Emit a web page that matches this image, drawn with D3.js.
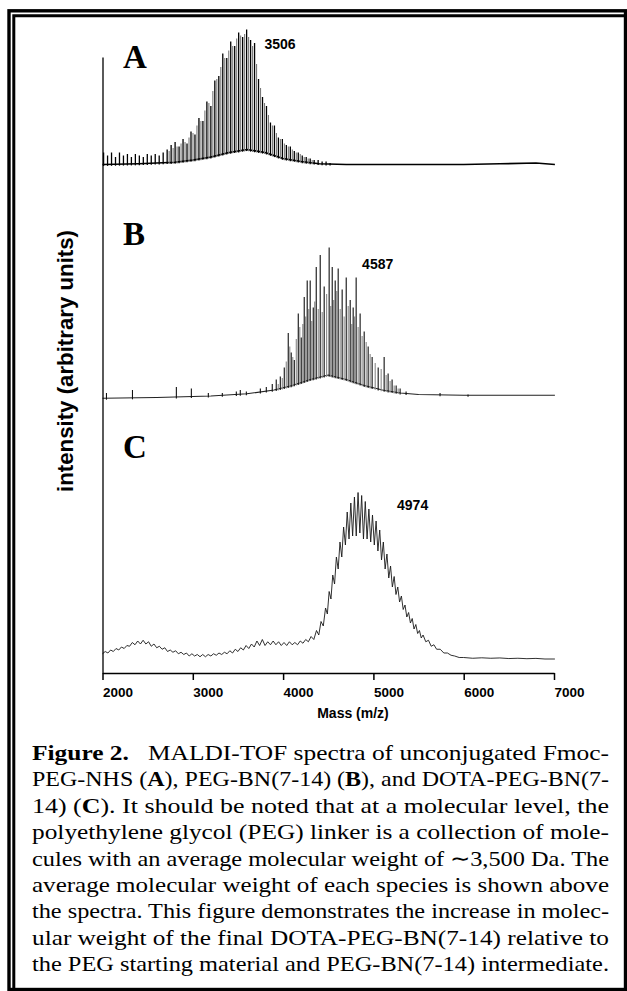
<!DOCTYPE html>
<html>
<head>
<meta charset="utf-8">
<script src="https://cdn.jsdelivr.net/npm/d3@7"></script>
<style>
  body { margin: 0; background: #fff; }
  svg { display: block; }
</style>
</head>
<body>
<div id="chart"></div>
<script>
// ---- data (mass in Da, intensity in arbitrary units) ----
const massTicks = [2000, 3000, 4000, 5000, 6000, 7000];
const panelNames = ['A', 'B', 'C'];
const peakLabels = [3506, 4587, 4974];

// A: Fmoc-PEG-NHS, spike tops (black series and the grey series between them)
const peaksA = [
  [2012, 9], [2056, 7], [2100, 9], [2144, 6], [2188, 9], [2232, 7], [2276, 8], [2320, 6],
  [2364, 8], [2408, 7], [2452, 6], [2496, 8], [2540, 7], [2584, 8], [2628, 7], [2672, 9],
  [2716, 11], [2760, 14], [2804, 16], [2848, 13], [2892, 18], [2936, 15], [2980, 23], [3024, 21],
  [3068, 32], [3112, 30], [3156, 43], [3200, 40], [3244, 57], [3288, 60], [3332, 75], [3376, 72],
  [3420, 83], [3464, 80], [3508, 89], [3552, 86], [3596, 91], [3640, 84], [3684, 82], [3728, 58],
  [3772, 46], [3816, 40], [3860, 29], [3904, 27], [3948, 19], [3992, 18], [4036, 14], [4080, 13],
  [4124, 10], [4168, 9], [4212, 7], [4256, 6], [4300, 5], [4344, 4], [4388, 4], [4432, 3], [4476, 3], [4520, 2]
];
const peaksA2 = [
  [2738, 10], [2782, 12], [2826, 13], [2870, 15], [2914, 16], [2958, 19], [3002, 22], [3046, 27],
  [3090, 30], [3134, 37], [3178, 42], [3222, 50], [3266, 58], [3310, 66], [3354, 72], [3398, 77],
  [3442, 80], [3486, 85], [3530, 87], [3574, 88], [3618, 86], [3662, 80], [3706, 68], [3750, 52],
  [3794, 42], [3838, 34], [3882, 27], [3926, 22], [3970, 18], [4014, 15], [4058, 13], [4102, 11],
  [4146, 9], [4190, 8], [4234, 6], [4278, 5], [4322, 4]
];
const floorA = [
  [2000, 1], [2400, 1.5], [2800, 2.5], [3000, 4], [3200, 6], [3400, 9], [3600, 11], [3800, 9],
  [4000, 5], [4200, 3], [4400, 1.5], [4700, 1], [5500, 1], [6000, 1], [6400, 1.5], [6800, 2], [7010, 1]
];

// B: PEG-BN(7-14)
const peaksB = [
  [2044, 4], [2332, 6], [2818, 8], [2984, 7], [3172, 4], [3327, 4], [3482, 5], [3526, 6], [3593, 5],
  [3748, 7], [3814, 8], [3880, 10], [3924, 13], [3969, 15], [4013, 21], [4057, 44], [4090, 31],
  [4124, 26], [4168, 57], [4201, 41], [4234, 68], [4267, 79], [4300, 79], [4334, 61], [4367, 88],
  [4411, 96], [4455, 75], [4510, 101], [4544, 88], [4577, 79], [4610, 87], [4654, 73], [4699, 81],
  [4743, 66], [4776, 61], [4809, 81], [4853, 57], [4898, 45], [4942, 35], [4986, 28], [5053, 21],
  [5119, 28], [5163, 17], [5207, 13], [5252, 9], [5296, 7], [5362, 5], [5738, 4], [6048, 3]
];
const peaksB2 = [
  [3946, 10], [3991, 14], [4035, 25], [4074, 35], [4107, 28], [4146, 40], [4185, 48], [4218, 50],
  [4250, 55], [4284, 60], [4317, 52], [4350, 65], [4389, 60], [4433, 58], [4482, 70], [4527, 62],
  [4560, 66], [4594, 72], [4632, 60], [4676, 55], [4721, 62], [4760, 50], [4792, 55], [4831, 48],
  [4875, 42], [4920, 38], [4964, 30], [5020, 24], [5086, 20], [5141, 16], [5185, 12], [5230, 9], [5274, 7]
];
const floorB = [
  [2000, 0.5], [2600, 1], [3200, 2], [3600, 3.5], [3900, 6], [4100, 9], [4300, 13], [4500, 16],
  [4700, 13], [4900, 9], [5100, 6], [5300, 4], [5500, 3], [6000, 2.5], [7010, 2.5]
];

// C: DOTA-PEG-BN(7-14), noisy trace
const traceC = [
  [2000, 5.5], [2030, 7], [2060, 6], [2090, 8], [2120, 7], [2150, 9], [2180, 8], [2210, 10],
  [2240, 9], [2270, 11], [2300, 10.5], [2330, 13], [2360, 11.5], [2390, 14], [2420, 12], [2450, 14.5],
  [2480, 12], [2510, 13.5], [2540, 10.5], [2570, 12], [2600, 9.5], [2630, 10.5], [2660, 8.5], [2690, 9.5],
  [2720, 7], [2750, 8], [2780, 6.5], [2810, 7.5], [2840, 5.5], [2870, 6.5], [2900, 5], [2930, 6],
  [2960, 4], [2990, 5.5], [3020, 4], [3050, 5], [3080, 3.5], [3110, 5], [3140, 3.5], [3170, 5],
  [3200, 4], [3230, 5.5], [3260, 4.5], [3290, 6], [3320, 5], [3350, 6.5], [3380, 5.5], [3410, 7.5],
  [3440, 6], [3470, 8.5], [3500, 7], [3530, 9.5], [3560, 8], [3590, 11], [3620, 9], [3650, 12],
  [3680, 10], [3710, 14], [3740, 11], [3770, 15], [3800, 11], [3830, 13.5], [3860, 11.5], [3890, 14],
  [3920, 11.5], [3950, 13.5], [3980, 11], [4010, 13], [4040, 11], [4070, 13.5], [4100, 11.5], [4130, 13],
  [4160, 11.5], [4190, 14], [4220, 12.5], [4250, 15], [4280, 13.5], [4310, 17], [4340, 15], [4370, 21],
  [4395, 18], [4420, 27], [4445, 24], [4470, 36], [4490, 32], [4510, 47], [4530, 42], [4550, 58],
  [4570, 52], [4590, 70], [4610, 62], [4630, 80], [4650, 70], [4670, 90], [4690, 78], [4710, 100],
  [4730, 82], [4750, 106], [4770, 84], [4790, 110], [4810, 84], [4830, 113], [4850, 86], [4870, 111],
  [4890, 82], [4910, 107], [4930, 82], [4950, 102], [4970, 80], [4990, 98], [5010, 78], [5030, 94],
  [5050, 74], [5070, 88], [5090, 68], [5110, 80], [5130, 62], [5150, 72], [5170, 56], [5190, 64],
  [5210, 50], [5230, 57], [5250, 45], [5270, 50], [5290, 40], [5310, 44], [5330, 35], [5350, 38],
  [5370, 30], [5390, 33], [5410, 26], [5430, 29], [5450, 22], [5470, 25], [5490, 19], [5510, 21],
  [5530, 16], [5550, 18], [5580, 13.5], [5610, 14.5], [5640, 10.5], [5670, 11.5], [5700, 8.5], [5740, 8.5],
  [5780, 6], [5820, 6], [5860, 4.5], [5900, 4], [5950, 3], [6000, 3], [6100, 2.5], [6200, 2.8],
  [6300, 2.5], [6400, 2.7], [6500, 2.3], [6600, 2.5], [6700, 2.2], [6800, 2.4], [6900, 2], [7010, 2]
];

const captionLines = [
  [['Figure 2.', true], ['   MALDI-TOF spectra of unconjugated Fmoc-', false]],
  [['PEG-NHS (', false], ['A', true], ['), PEG-BN(7-14) (', false], ['B', true], ['), and DOTA-PEG-BN(7-', false]],
  [['14) (', false], ['C', true], ['). It should be noted that at a molecular level, the', false]],
  [['polyethylene glycol (PEG) linker is a collection of mole-', false]],
  [['cules with an average molecular weight of \u223C3,500 Da. The', false]],
  [['average molecular weight of each species is shown above', false]],
  [['the spectra. This figure demonstrates the increase in molec-', false]],
  [['ular weight of the final DOTA-PEG-BN(7-14) relative to', false]],
  [['the PEG starting material and PEG-BN(7-14) intermediate.', false]]
];

// ---- layout ----
const W = 627, H = 991;
const panelBase = [166, 399, 662];
const unitPx = 1.5;
const letterY = [68, 245, 458];
const labelY = [49, 269, 510];

const svg = d3.select('#chart').append('svg')
  .attr('width', W).attr('height', H);

svg.append('rect').attr('width', W).attr('height', H).attr('fill', '#fff');

// double frame
svg.append('rect')
  .attr('x', 9).attr('y', 10.8).attr('width', 616.5).attr('height', 978.7)
  .attr('fill', 'none').attr('stroke', '#000').attr('stroke-width', 3.4);
svg.append('path')
  .attr('d', 'M13.8,989 V15.8 H624')
  .attr('fill', 'none').attr('stroke', '#000').attr('stroke-width', 3);

const x = d3.scaleLinear().domain([2000, 7000]).range([102.5, 554]);
const axisY = 673;

function panelScale(i) {
  return d3.scaleLinear().domain([0, 100]).range([panelBase[i], panelBase[i] - 100 * unitPx]);
}
function floorScale(floor) {
  return d3.scaleLinear().domain(floor.map(d => d[0])).range(floor.map(d => d[1])).clamp(true);
}
function spikes(g, data, y, f, colour, width) {
  g.append('g').selectAll('line').data(data).join('line')
    .attr('x1', d => x(d[0])).attr('x2', d => x(d[0]))
    .attr('y1', d => y(f(d[0])) + 1.5).attr('y2', d => y(d[1]))
    .attr('stroke', colour).attr('stroke-width', width);
}

// A
{
  const y = panelScale(0);
  const f = floorScale(floorA);
  const g = svg.append('g');
  g.append('path').datum(floorA)
    .attr('d', d3.line().x(d => x(d[0])).y(d => y(d[1])))
    .attr('fill', 'none').attr('stroke', '#000').attr('stroke-width', 1.7);
  spikes(g, peaksA2, y, f, '#7a7a7a', 1.1);
  spikes(g, peaksA, y, f, '#000', 1.3);
}

// B
{
  const y = panelScale(1);
  const f = floorScale(floorB);
  const g = svg.append('g');
  g.append('path').datum(floorB)
    .attr('d', d3.line().x(d => x(d[0])).y(d => y(d[1])))
    .attr('fill', 'none').attr('stroke', '#222').attr('stroke-width', 1.2);
  spikes(g, peaksB2, y, f, '#8a8a8a', 1.1);
  spikes(g, peaksB, y, f, '#111', 1.1);
}

// C
{
  const y = panelScale(2);
  svg.append('path').datum(traceC)
    .attr('d', d3.line().x(d => x(d[0])).y(d => y(d[1])))
    .attr('fill', 'none').attr('stroke', '#1a1a1a').attr('stroke-width', 0.9);
}

// axes
const yAxisScale = d3.scaleLinear().domain([0, 1]).range([axisY, 57]);
svg.append('g')
  .attr('transform', `translate(${x(2000)},0)`)
  .call(d3.axisLeft(yAxisScale).tickValues([]).tickSizeOuter(0))
  .select('.domain').attr('stroke-width', 1.3);

const xAxis = svg.append('g')
  .attr('transform', `translate(0,${axisY})`)
  .call(d3.axisBottom(x).tickValues(massTicks).tickSize(7).tickSizeOuter(0).tickPadding(7).tickFormat(d3.format('d')));
xAxis.select('.domain').attr('stroke-width', 1.6);
xAxis.selectAll('line').attr('stroke-width', 1.5);
xAxis.selectAll('text')
  .attr('text-anchor', 'start')
  .attr('font-family', '"Liberation Sans", Arial, sans-serif')
  .attr('font-weight', 'bold').attr('font-size', 13.5).attr('fill', '#000');

svg.append('text')
  .attr('x', 353).attr('y', 718).attr('text-anchor', 'middle')
  .attr('font-family', '"Liberation Sans", Arial, sans-serif')
  .attr('font-weight', 'bold').attr('font-size', 14)
  .text('Mass (m/z)');

svg.append('text')
  .attr('transform', 'translate(72.5,361) rotate(-90)')
  .attr('text-anchor', 'middle')
  .attr('font-family', '"Liberation Sans", Arial, sans-serif')
  .attr('font-weight', 'bold').attr('font-size', 22)
  .attr('textLength', 262).attr('lengthAdjust', 'spacingAndGlyphs')
  .text('intensity (arbitrary units)');

// panel letters and peak labels
panelNames.forEach((name, i) => {
  svg.append('text')
    .attr('x', 123).attr('y', letterY[i])
    .attr('font-family', '"Liberation Serif", "Times New Roman", serif')
    .attr('font-weight', 'bold').attr('font-size', 33)
    .text(name);
  svg.append('text')
    .attr('x', x(peakLabels[i]) + 26).attr('y', labelY[i])
    .attr('font-family', '"Liberation Sans", Arial, sans-serif')
    .attr('font-weight', 'bold').attr('font-size', 14)
    .text(peakLabels[i]);
});

// caption
const cap = svg.append('g')
  .attr('font-family', '"Liberation Serif", "Times New Roman", serif')
  .attr('font-size', 22).attr('fill', '#000');
captionLines.forEach((line, i) => {
  const t = cap.append('text')
    .attr('x', 32).attr('y', 760 + i * 26.4)
    .attr('textLength', 577).attr('lengthAdjust', 'spacingAndGlyphs')
    .style('white-space', 'pre');
  line.forEach(([s, b]) => {
    t.append('tspan').attr('font-weight', b ? 'bold' : 'normal').text(s);
  });
});
</script>
</body>
</html>
